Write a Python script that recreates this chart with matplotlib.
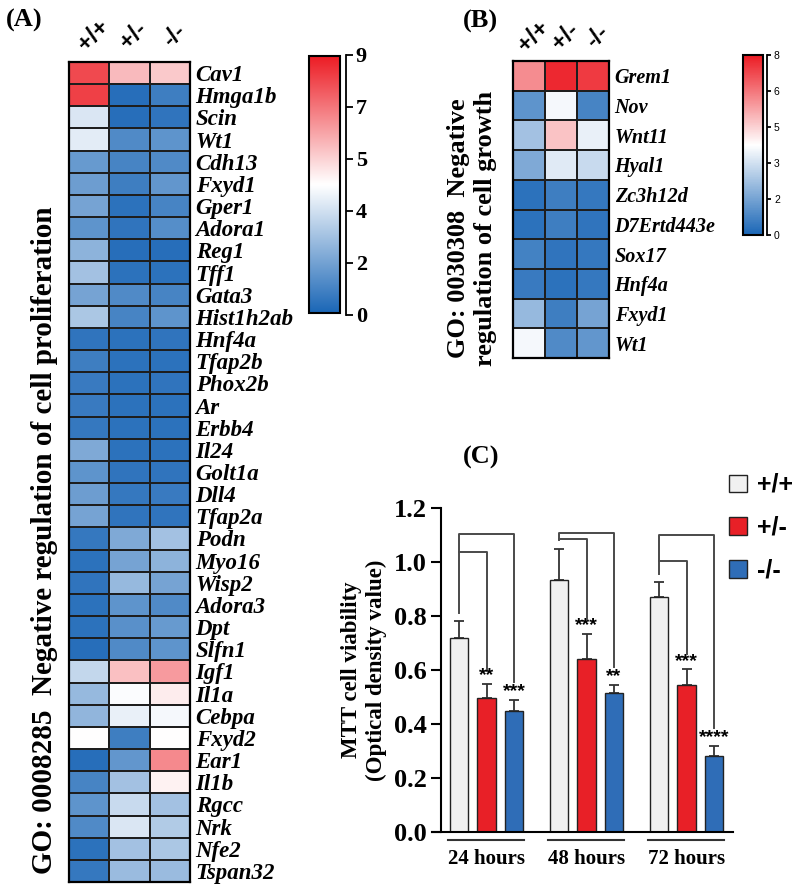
import numpy as np
import matplotlib
matplotlib.use("Agg")
import matplotlib.pyplot as plt
from matplotlib.colors import LinearSegmentedColormap, FuncNorm
from matplotlib.patches import Patch

W, H = 795, 891
SERIF = "Liberation Serif"
SANS = "Liberation Sans"

# ------------------------------- data
genotypes = ["+/+", "+/-", "-/-"]

genes_a = ["Cav1", "Hmga1b", "Scin", "Wt1", "Cdh13", "Fxyd1", "Gper1", "Adora1",
           "Reg1", "Tff1", "Gata3", "Hist1h2ab", "Hnf4a", "Tfap2b", "Phox2b", "Ar",
           "Erbb4", "Il24", "Golt1a", "Dll4", "Tfap2a", "Podn", "Myo16", "Wisp2",
           "Adora3", "Dpt", "Slfn1", "Igf1", "Il1a", "Cebpa", "Fxyd2", "Ear1",
           "Il1b", "Rgcc", "Nrk", "Nfe2", "Tspan32"]
wt_a = [8.0, 8.2, 4.1, 4.2, 1.7, 1.8, 2.0, 1.5, 2.5, 3.0, 2.0, 3.2, 0.5, 0.8, 0.7,
        0.7, 0.6, 2.2, 1.5, 1.8, 2.0, 0.6, 0.4, 0.5, 0.4, 0.4, 0.3, 3.7, 2.7, 2.6,
        4.5, 0.3, 1.0, 1.5, 1.2, 0.4, 0.6]
het_a = [5.5, 0.3, 0.3, 1.2, 1.0, 0.8, 0.4, 0.5, 0.3, 0.4, 1.2, 1.0, 0.4, 0.4, 0.4,
         0.4, 0.4, 0.4, 0.5, 0.6, 0.5, 2.2, 2.0, 2.7, 1.5, 1.4, 1.2, 5.4, 4.45, 4.25,
         0.8, 1.6, 3.0, 3.8, 4.1, 3.0, 2.8]
ko_a = [5.2, 0.8, 0.5, 1.5, 1.2, 1.6, 1.0, 1.3, 0.3, 0.4, 1.0, 1.5, 0.5, 0.4, 0.5,
        0.4, 0.4, 0.4, 0.5, 0.7, 0.5, 3.0, 2.5, 2.0, 1.2, 1.7, 1.5, 6.2, 4.7, 4.4,
        4.5, 6.6, 4.65, 3.0, 3.3, 3.2, 2.8]
ticks_a = [0, 2, 4, 5, 7, 9]

genes_b = ["Grem1", "Nov", "Wnt11", "Hyal1", "Zc3h12d", "D7Ertd443e", "Sox17",
           "Hnf4a", "Fxyd1", "Wt1"]
wt_b = [5.75, 1.5, 2.5, 2.1, 0.4, 0.4, 0.9, 0.7, 2.35, 3.8]
het_b = [7.7, 3.8, 5.15, 3.3, 0.8, 0.8, 0.5, 0.4, 0.8, 1.2]
ko_b = [7.3, 1.0, 3.5, 2.9, 0.6, 0.5, 0.6, 0.6, 2.0, 1.6]
ticks_b = [0, 2, 3, 5, 6, 8]

hours = ["24 hours", "48 hours", "72 hours"]
mtt_mean = {"+/+": [0.72, 0.935, 0.87], "+/-": [0.495, 0.64, 0.545], "-/-": [0.45, 0.515, 0.28]}
mtt_err = {"+/+": [0.06, 0.115, 0.055], "+/-": [0.055, 0.095, 0.058], "-/-": [0.04, 0.03, 0.04]}
stars = {"+/-": ["**", "***", "***"], "-/-": ["***", "**", "****"]}
outer_top = [1.104, 1.107, 1.10]
inner_top = [1.037, 1.086, 1.004]
bar_colors = {"+/+": "#f1f1f1", "+/-": "#e82027", "-/-": "#2f6db7"}


def px(x0, y0, x1, y1):
    return [x0 / W, 1 - y1 / H, (x1 - x0) / W, (y1 - y0) / H]


def even_norm(stops):
    pos = np.linspace(0, 1, len(stops))
    fwd = lambda v: np.interp(v, stops, pos)
    inv = lambda t: np.interp(t, pos, stops)
    return FuncNorm((fwd, inv), vmin=stops[0], vmax=stops[-1]), fwd, inv


cmap = LinearSegmentedColormap.from_list("bwr_gp", ["#1a66b6", "#ffffff", "#ec1c24"])

fig = plt.figure(figsize=(W / 100, H / 100), dpi=100)


def heatmap(rect, genes, cols, stops, fsize, col_off):
    norm, fwd, inv = even_norm(stops)
    ax = fig.add_axes(rect)
    data = np.array(cols).T
    m = ax.pcolormesh(data, cmap=cmap, norm=norm, edgecolors="#1e1e1e", linewidth=1.3)
    ax.set_xlim(0, 3)
    ax.set_ylim(len(genes), 0)
    ax.yaxis.tick_right()
    ax.set_yticks(np.arange(len(genes)) + 0.5)
    ax.set_yticklabels(genes, family=SERIF, style="italic", weight="bold", fontsize=fsize)
    ax.tick_params(axis="y", length=0, pad=4)
    ax.set_xticks([])
    for s in ax.spines.values():
        s.set_linewidth(1.6)
    for i, g in enumerate(genotypes):
        ax.annotate(g, xy=(i + 0.5, 1), xycoords=("data", "axes fraction"),
                    xytext=(col_off[0], col_off[1]), textcoords="offset points",
                    ha="center", va="center", rotation=45, family=SANS,
                    weight="bold", fontsize=17)
    return m, norm, fwd, inv


def colorbar(m, rect, brect, stops, fwd, inv, lab_kw, ticklen):
    cax = fig.add_axes(rect)
    cb = fig.colorbar(m, cax=cax)
    cb.set_ticks([])
    cb.outline.set_linewidth(1.5)
    bx = fig.add_axes(brect)
    bx.set_yscale("function", functions=(fwd, inv))
    bx.set_ylim(stops[0], stops[-1])
    for k in ["left", "top", "bottom"]:
        bx.spines[k].set_visible(False)
    bx.spines["right"].set_linewidth(1.3)
    bx.set_xticks([])
    bx.yaxis.tick_right()
    bx.set_yticks(stops)
    bx.set_yticklabels([str(s) for s in stops], **lab_kw)
    bx.tick_params(axis="y", length=ticklen, width=1.3, pad=2)
    bx.yaxis.set_minor_locator(matplotlib.ticker.NullLocator())


# ------------------------------- (A)
m_a, n_a, f_a, i_a = heatmap(px(69, 62, 190, 882), genes_a, [wt_a, het_a, ko_a],
                             ticks_a, 16.5, (3, 19))
colorbar(m_a, px(309, 56, 340, 313), px(345, 55, 346, 315), ticks_a, f_a, i_a,
         dict(family=SERIF, weight="bold", fontsize=16), 5)
fig.text(24 / W, 1 - 20 / H, "(A)", family=SERIF, weight="bold", fontsize=19,
         ha="center", va="center")
fig.text(45 / W, 1 - 540 / H, "GO: 0008285  Negative regulation of cell proliferation",
         family=SERIF, weight="bold", fontsize=21, rotation=90, ha="center", va="center")

# ------------------------------- (B)
m_b, n_b, f_b, i_b = heatmap(px(513, 61, 609, 358), genes_b, [wt_b, het_b, ko_b],
                             ticks_b, 14.5, (3, 18))
colorbar(m_b, px(743, 55, 763, 235), px(766, 55, 767, 235), ticks_b, f_b, i_b,
         dict(family=SANS, fontsize=7.5), 3)
fig.text(480 / W, 1 - 21 / H, "(B)", family=SERIF, weight="bold", fontsize=19,
         ha="center", va="center")
fig.text(472 / W, 1 - 228 / H, "GO: 0030308  Negative\nregulation of cell growth",
         family=SERIF, weight="bold", fontsize=19, rotation=90, ha="center", va="center",
         linespacing=1.2)

# ------------------------------- (C)
ax = fig.add_axes(px(432, 508, 733, 832))
x = np.arange(len(hours))
offsets = [-0.275, 0.0, 0.275]
for off, g in zip(offsets, genotypes):
    ax.bar(x + off, mtt_mean[g], width=0.185, color=bar_colors[g], edgecolor="#222222",
           linewidth=1.0, zorder=2)
    ax.errorbar(x + off, mtt_mean[g], yerr=[np.zeros(3), mtt_err[g]], fmt="none",
                ecolor="#333333", elinewidth=1.3, capsize=3.5, capthick=1.3, zorder=1)

tops = {g: np.array(mtt_mean[g]) + np.array(mtt_err[g]) for g in genotypes}
for g in ["+/-", "-/-"]:
    off = offsets[genotypes.index(g)]
    for i in range(3):
        ax.text(x[i] + off, tops[g][i] + 0.03, stars[g][i], ha="center", va="center",
                family=SANS, weight="bold", fontsize=14)

bk = dict(color="#4a4a4a", lw=1.4, clip_on=False, zorder=3)
for i in range(3):
    xl, xm, xr = x[i] + offsets[0], x[i] + offsets[1], x[i] + offsets[2]
    ax.plot([xl, xl, xr, xr], [tops["+/+"][i] + 0.03, outer_top[i], outer_top[i],
                               tops["-/-"][i] + 0.065], **bk)
    ax.plot([xl, xm, xm], [inner_top[i], inner_top[i], tops["+/-"][i] + 0.055], **bk)
    ax.plot([x[i] - 0.385, x[i] + 0.37], [-0.025, -0.025], color="#333333", lw=1.5,
            transform=ax.get_xaxis_transform(), clip_on=False)

ax.set_xlim(-0.545, 2.465)
ax.set_ylim(0, 1.2)
ax.spines["left"].set_position(("data", -0.455))
ax.set_yticks(np.arange(0, 1.21, 0.2))
ax.set_yticklabels([f"{v:.1f}" for v in np.arange(0, 1.21, 0.2)], family=SERIF,
                   weight="bold", fontsize=19)
ax.set_xticks(x)
ax.set_xticklabels(hours, family=SERIF, weight="bold", fontsize=15)
ax.tick_params(axis="x", length=0, pad=12)
ax.tick_params(axis="y", length=7, width=1.5, pad=3)
for k in ["top", "right"]:
    ax.spines[k].set_visible(False)
for k in ["left", "bottom"]:
    ax.spines[k].set_linewidth(1.5)
fig.text(364 / W, 1 - 670 / H, "MTT cell viability\n(Optical density value)",
         family=SERIF, weight="bold", fontsize=16.5, rotation=90, ha="center",
         va="center", linespacing=1.25)

handles = [Patch(facecolor=bar_colors[g], edgecolor="#222222", linewidth=1.0)
           for g in genotypes]
fig.legend(handles, genotypes, loc="upper left", bbox_to_anchor=(729 / W, 1 - 473 / H),
           frameon=False, prop=dict(family=SANS, weight="bold", size=18),
           handlelength=0.7, handleheight=0.7, handletextpad=0.4, labelspacing=0.75,
           borderpad=0, borderaxespad=0)
fig.text(481 / W, 1 - 457 / H, "(C)", family=SERIF, weight="bold", fontsize=19,
         ha="center", va="center")

fig.savefig("out.png", dpi=100)
